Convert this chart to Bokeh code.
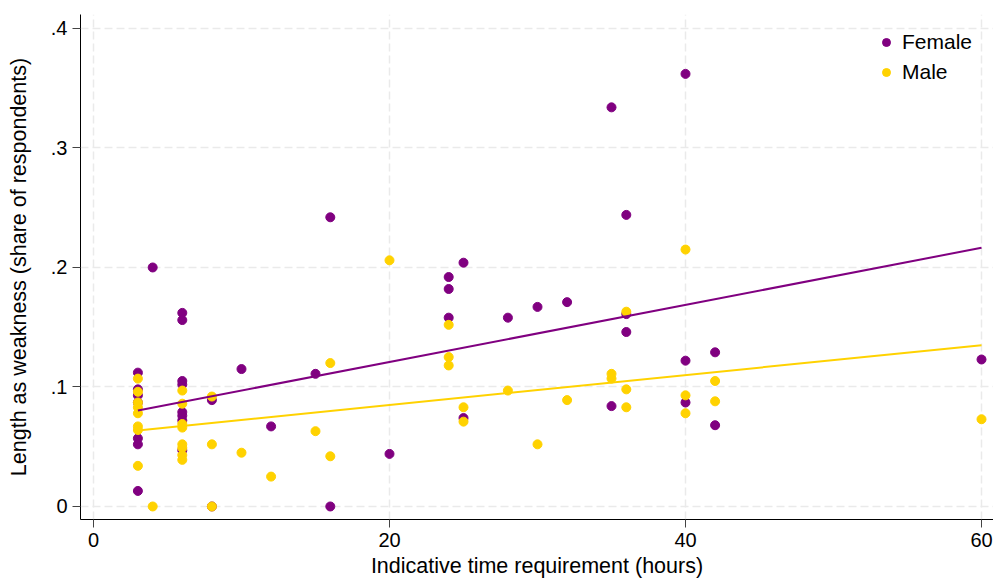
from bokeh.plotting import figure
from bokeh.models import FixedTicker, Range1d
from bokeh.embed import file_html
from bokeh.resources import INLINE

# ---- data ----
female_x = [3, 3, 3, 3, 3, 3, 3, 4, 6, 6, 6, 6, 6, 6, 6, 6, 8, 8, 10, 12, 15, 16, 16, 20,
            24, 24, 24, 25, 25, 28, 30, 32, 35, 35, 36, 36, 36, 40, 40, 40, 42, 42, 60]
female_y = [0.112, 0.098, 0.093, 0.087, 0.057, 0.052, 0.013, 0.200,
            0.162, 0.156, 0.105, 0.102, 0.079, 0.076, 0.072, 0.047,
            0.089, 0.000, 0.115, 0.067, 0.111, 0.242, 0.000, 0.044,
            0.192, 0.182, 0.158, 0.204, 0.074, 0.158, 0.167, 0.171,
            0.334, 0.084, 0.244, 0.161, 0.146, 0.362, 0.122, 0.087,
            0.129, 0.068, 0.123]

male_x = [3, 3, 3, 3, 3, 3, 3, 3, 4, 6, 6, 6, 6, 6, 6, 6, 6, 8, 8, 8, 10, 12, 15, 16, 16,
          20, 24, 24, 24, 25, 25, 28, 30, 32, 35, 35, 36, 36, 36, 40, 40, 40, 42, 42, 60]
male_y = [0.107, 0.096, 0.087, 0.083, 0.078, 0.067, 0.064, 0.034, 0.000,
          0.097, 0.086, 0.069, 0.066, 0.052, 0.049, 0.043, 0.039,
          0.092, 0.052, 0.000, 0.045, 0.025, 0.063, 0.120, 0.042,
          0.206, 0.152, 0.125, 0.118, 0.083, 0.071, 0.097, 0.052, 0.089,
          0.111, 0.107, 0.163, 0.098, 0.083, 0.215, 0.093, 0.078,
          0.105, 0.088, 0.073]

# fitted lines (values at the ends)
fit_x = [3, 60]
female_fit = [0.0803, 0.2165]
male_fit = [0.0636, 0.1350]

x_ticks = [0, 20, 40, 60]
y_ticks = [0, 0.1, 0.2, 0.3, 0.4]
y_tick_labels = ["0", ".1", ".2", ".3", ".4"]

PURPLE = "#800080"
GOLD = "#FFD200"
FONT = "Liberation Sans"

p = figure(width=993, height=583, output_backend="svg", toolbar_location=None,
           x_range=Range1d(-0.878, 60.81), y_range=Range1d(-0.0109, 0.4117),
           min_border_left=80, min_border_right=0, min_border_top=14,
           min_border_bottom=64)
p.outline_line_color = None
p.background_fill_color = "white"
p.border_fill_color = "white"

p.scatter(female_x, female_y, size=9, color=PURPLE, legend_label="Female")
p.scatter(male_x, male_y, size=9, color=GOLD, legend_label="Male")
p.line(fit_x, female_fit, line_color=PURPLE, line_width=2)
p.line(fit_x, male_fit, line_color=GOLD, line_width=2)

# axes
p.xaxis.ticker = FixedTicker(ticks=x_ticks)
p.yaxis.ticker = FixedTicker(ticks=y_ticks)
p.yaxis.major_label_overrides = {t: l for t, l in zip(y_ticks, y_tick_labels)}
p.xaxis.axis_label = "Indicative time requirement (hours)"
p.yaxis.axis_label = "Length as weakness (share of respondents)"
for ax in (p.xaxis, p.yaxis):
    ax.axis_line_color = "black"
    ax.axis_line_width = 1
    ax.major_tick_line_color = "#444444"
    ax.major_tick_out = 8
    ax.major_tick_in = 0
    ax.minor_tick_line_color = None
    ax.major_label_text_font = FONT
    ax.major_label_text_font_size = "20px"
    ax.major_label_text_color = "black"
    ax.major_label_standoff = 5
    ax.axis_label_text_font = FONT
    ax.axis_label_text_font_size = "21.5px"
    ax.axis_label_text_font_style = "normal"
    ax.axis_label_text_color = "black"
p.xaxis.axis_label_standoff = 4
p.yaxis.axis_label_standoff = 17
p.yaxis.major_label_orientation = "horizontal"

# grid
for g in (p.xgrid, p.ygrid):
    g.grid_line_color = "#eaeaea"
    g.grid_line_width = 1.5
    g.grid_line_dash = "8 4"
p.xgrid.ticker = FixedTicker(ticks=x_ticks)
p.ygrid.ticker = FixedTicker(ticks=y_ticks)

# legend
lg = p.legend[0]
lg.location = (796, 435)
lg.border_line_color = None
lg.background_fill_alpha = 0
lg.padding = 0
lg.spacing = 6
lg.label_height = 24
lg.glyph_height = 24
lg.glyph_width = 20
lg.label_standoff = 6
lg.label_text_font = FONT
lg.label_text_font_size = "21px"
lg.label_text_color = "black"

open("out.html", "w").write(file_html(p, INLINE))
